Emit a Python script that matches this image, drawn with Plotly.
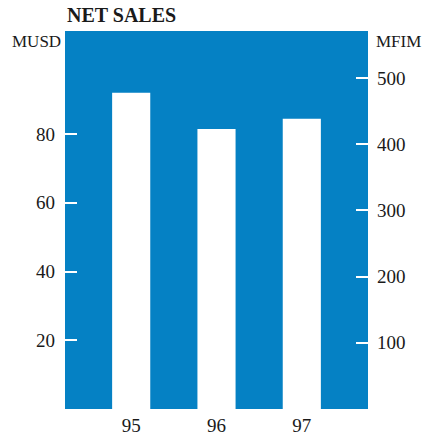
import plotly.graph_objects as go

# Net sales by year, in millions of US dollars
years = ["95", "96", "97"]
sales_musd = [92.0, 81.5, 84.5]

# Axis ticks
musd_ticks = [20, 40, 60, 80]
mfim_ticks = [100, 200, 300, 400, 500]

BLUE = "#0581C4"
FONT = "Liberation Serif"
TEXT = "#1a1a1a"

fig = go.Figure()
fig.add_trace(go.Bar(
    x=years, y=sales_musd, width=0.447,
    marker=dict(color="white", line=dict(width=0)),
    hoverinfo="skip", showlegend=False,
))
# empty trace so the MFIM axis is drawn on the right
fig.add_trace(go.Scatter(x=[], y=[], yaxis="y2", showlegend=False, hoverinfo="skip"))

fig.update_layout(
    width=422, height=435,
    margin=dict(l=65, r=54, t=31, b=26),
    paper_bgcolor="white", plot_bgcolor=BLUE,
    font=dict(family=FONT, size=19, color=TEXT),
    xaxis=dict(
        type="category", range=[-0.776, 2.776], automargin=False,
        showgrid=False, zeroline=False, showline=False, ticks="",
        ticklabelstandoff=3,
    ),
    yaxis=dict(
        range=[0, 110], tickvals=musd_ticks, automargin=False,
        showgrid=False, zeroline=False, showline=False,
        ticks="inside", ticklen=12, tickwidth=2, tickcolor="white",
        ticklabelstandoff=9,
    ),
    yaxis2=dict(
        range=[0, 571], tickvals=mfim_ticks, overlaying="y", side="right",
        automargin=False,
        showgrid=False, zeroline=False, showline=False,
        ticks="inside", ticklen=12, tickwidth=2, tickcolor="white",
        ticklabelstandoff=8,
    ),
    annotations=[
        dict(text="<b>NET SALES</b>", xref="paper", yref="paper",
             x=0, y=1, xanchor="left", yanchor="middle", yshift=16,
             showarrow=False, font=dict(size=20)),
        dict(text="MUSD", xref="paper", yref="paper",
             x=0, y=(409 - 42) / 378, xanchor="right", yanchor="middle",
             xshift=-2, showarrow=False, font=dict(size=17)),
        dict(text="MFIM", xref="paper", yref="paper",
             x=1, y=(409 - 42) / 378, xanchor="left", yanchor="middle",
             xshift=6, showarrow=False, font=dict(size=17)),
    ],
)

fig.write_html("out.html")
